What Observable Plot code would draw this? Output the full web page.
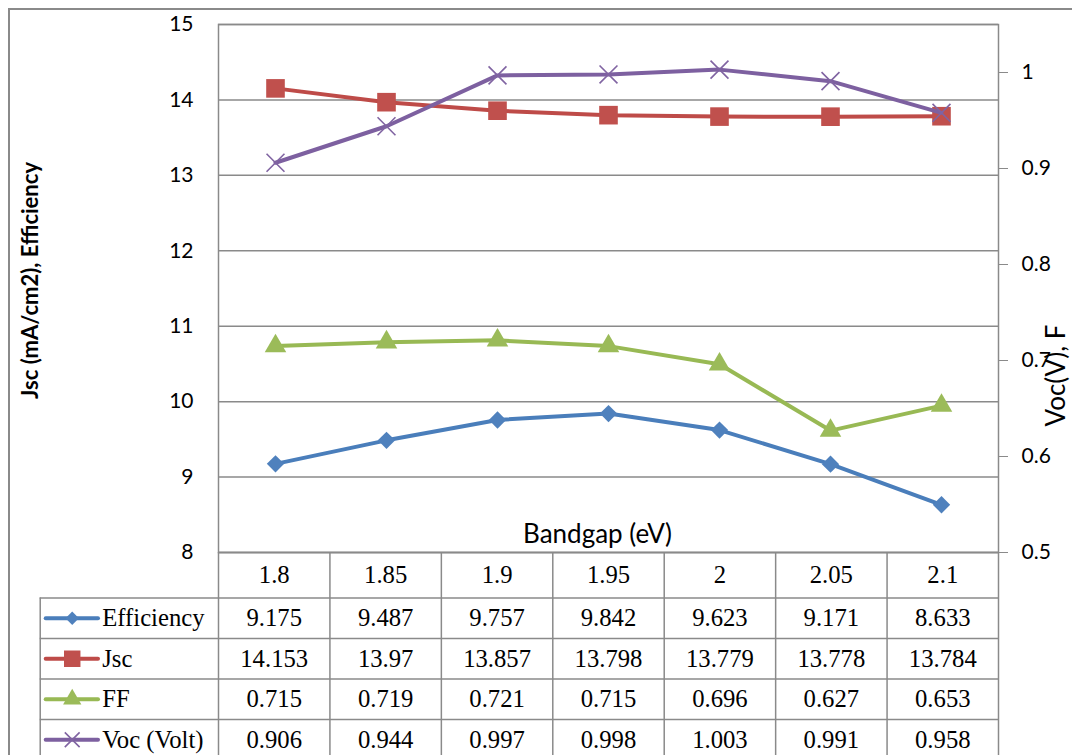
<!DOCTYPE html>
<html>
<head>
<meta charset="utf-8">
<script src="https://cdn.jsdelivr.net/npm/d3@7"></script>
<script src="https://cdn.jsdelivr.net/npm/@observablehq/plot@0.6"></script>
<style>
  html, body { margin: 0; padding: 0; background: white; }
  #chart { position: relative; width: 1072px; height: 755px; overflow: hidden; background: white; }
  #chart .border { position: absolute; left: 8px; top: 8px; width: 2000px; height: 2000px;
    border-left: 2px solid #8a8a8a; border-top: 2px solid #8a8a8a; }
  #chart svg { position: absolute; left: 0; top: 0; }
</style>
</head>
<body>
<div id="chart"><div class="border"></div></div>
<script>
// Bandgap sweep: categories and the four measured series
const bandgap = ["1.8", "1.85", "1.9", "1.95", "2", "2.05", "2.1"];
const efficiency = [9.175, 9.487, 9.757, 9.842, 9.623, 9.171, 8.633];
const jsc = [14.153, 13.97, 13.857, 13.798, 13.779, 13.778, 13.784];
const ff = [0.715, 0.719, 0.721, 0.715, 0.696, 0.627, 0.653];
const voc = [0.906, 0.944, 0.997, 0.998, 1.003, 0.991, 0.958];

// Axis ranges and ticks (left: Jsc / Efficiency, right: Voc / FF)
const leftDomain = [8, 15];
const leftTicks = [8, 9, 10, 11, 12, 13, 14, 15];
const rightDomain = [0.5, 1.05];
const rightTicks = [0.5, 0.6, 0.7, 0.8, 0.9, 1];

const xTitle = "Bandgap (eV)";
const leftTitle = "Jsc (mA/cm2), Efficiency";
const rightTitle = "Voc(V), F";

// Series drawing styles
const series = [
  {name: "Efficiency", values: efficiency, axis: "left",  line: "#4a7ebb", fill: "#4f81bd", symbol: "diamond2", r: 7.8, rLegend: 6},
  {name: "Jsc",        values: jsc,        axis: "left",  line: "#be4b48", fill: "#c0504d", symbol: "square",   r: 10.5, rLegend: 9.3},
  {name: "FF",         values: ff,         axis: "right", line: "#98b954", fill: "#9bbb59", symbol: "triangle", r: 8, rLegend: 6.8},
  {name: "Voc (Volt)", values: voc,        axis: "right", line: "#7d60a0", fill: "#8064a2", symbol: "times",    r: 8.2, rLegend: 6.8}
];

const GRID = "#8a8a8a";
const SANS = "Lato, 'Open Sans', sans-serif";
const SERIF = "'Liberation Serif', 'DejaVu Serif', serif";
const TABLE_FONT_SIZE = 24.7;

// Map a right-axis value onto the left-axis scale and back
const span = (d) => d[1] - d[0];
const toLeft = (v) => leftDomain[0] + (v - rightDomain[0]) * span(leftDomain) / span(rightDomain);
const fromLeft = (y) => rightDomain[0] + (y - leftDomain[0]) * span(rightDomain) / span(leftDomain);

const points = series.flatMap((s) =>
  s.values.map((v, i) => ({series: s.name, bandgap: bandgap[i], value: v, y: s.axis === "left" ? v : toLeft(v)}))
);

function dotStyleOf(s) {
  return s.symbol === "times"
    ? {fill: "none", stroke: s.fill, strokeWidth: 1.6}
    : {fill: s.fill, stroke: "none"};
}

function seriesMarks(s) {
  const data = points.filter((p) => p.series === s.name);
  return [
    Plot.line(data, {x: "bandgap", y: "y", stroke: s.line, strokeWidth: 4, strokeLinejoin: "round", strokeLinecap: "round"}),
    Plot.dot(data, {x: "bandgap", y: "y", symbol: s.symbol, r: s.r, ...dotStyleOf(s)})
  ];
}

const chart = Plot.plot({
  width: 1072,
  height: 755,
  marginLeft: 218,
  marginRight: 74,
  marginTop: 24,
  marginBottom: 203,
  style: {background: "transparent", overflow: "visible", fontFamily: SANS, color: "black"},
  x: {type: "point", domain: bandgap, padding: 0.5, axis: null},
  y: {domain: leftDomain},
  marks: [
    Plot.ruleY(leftTicks, {stroke: GRID, strokeWidth: 1.5}),
    Plot.frame({stroke: GRID, strokeWidth: 1.5}),
    Plot.axisY(leftTicks, {
      anchor: "left", tickSize: 0, tickPadding: 25, fontSize: 21, fill: "black", label: null,
      tickFormat: (d) => String(d)
    }),
    Plot.axisY(rightTicks.map(toLeft), {
      anchor: "right", tickSize: 9, tickPadding: 14, fontSize: 21, stroke: GRID, fill: "black", label: null,
      tickFormat: (d) => String(+fromLeft(d).toFixed(2))
    }),
    ...series.flatMap(seriesMarks),
    Plot.text([xTitle], {
      text: (d) => d, frameAnchor: "bottom", textAnchor: "middle", lineAnchor: "bottom",
      dx: -11, dy: -10, fontSize: 26, fill: "black"
    }),
    Plot.text([leftTitle], {
      text: (d) => d, frameAnchor: "left", textAnchor: "middle", rotate: -90, lineAnchor: "bottom",
      dx: -181, dy: -8, fontSize: 22, fontWeight: "bold", fill: "black"
    }),
    Plot.text([rightTitle], {
      text: (d) => d, frameAnchor: "right", textAnchor: "middle", rotate: -90, lineAnchor: "bottom",
      dx: 66, dy: 87, fontSize: 26, fill: "black"
    })
  ]
});

// Data table below the plot: header row of bandgaps, then one row per series.
// Table x runs in column units (0..7), the legend column sits left of 0.
const legendSpan = 1.6;
const nCols = bandgap.length;
const nRows = series.length + 1;

const hRules = d3.range(nRows + 1).map((r) => ({y: r, x1: r === 0 ? 0 : -legendSpan, x2: nCols}));
const vRules = d3.range(nCols + 1).map((c) => ({x: c, y1: 0, y2: nRows}))
  .concat([{x: -legendSpan, y1: 1, y2: nRows}]);

const cells = series.flatMap((s, si) =>
  s.values.map((v, ci) => ({row: si + 1, col: ci, text: String(v)}))
);

function legendMarks(s, si) {
  const row = [{row: si + 1}];
  return [
    Plot.ruleY(row, {
      y: (d) => d.row + 0.5, x1: -legendSpan, x2: 0, insetLeft: 6, insetRight: 120,
      stroke: s.line, strokeWidth: 4, strokeLinecap: "round"
    }),
    Plot.dot(row, {x: -legendSpan, y: (d) => d.row + 0.5, dx: 32, symbol: s.symbol, r: s.rLegend, ...dotStyleOf(s)}),
    Plot.text(row, {
      x: -legendSpan, y: (d) => d.row + 0.5, dx: 62, text: () => s.name, textAnchor: "start",
      fontFamily: SERIF, fontSize: TABLE_FONT_SIZE, fill: "black"
    })
  ];
}

const table = Plot.plot({
  width: 1072,
  height: 755,
  style: {background: "transparent", overflow: "visible", fontFamily: SERIF, color: "black"},
  x: {type: "linear", domain: [0, nCols], range: [218, 998], axis: null},
  y: {type: "linear", domain: [0, 1, nRows], range: [552, 597.5, 759.5], axis: null},
  marks: [
    Plot.ruleY(hRules, {y: "y", x1: "x1", x2: "x2", stroke: GRID, strokeWidth: 1.5}),
    Plot.ruleX(vRules, {x: "x", y1: "y1", y2: "y2", stroke: GRID, strokeWidth: 1.5}),
    Plot.text(bandgap, {
      x: (d, i) => i + 0.5, y: 0.5, text: (d) => d,
      fontFamily: SERIF, fontSize: TABLE_FONT_SIZE, fontVariant: "normal", fill: "black"
    }),
    Plot.text(cells, {
      x: (d) => d.col + 0.5, y: (d) => d.row + 0.5, text: "text",
      fontFamily: SERIF, fontSize: TABLE_FONT_SIZE, fontVariant: "normal", fill: "black"
    }),
    ...series.flatMap(legendMarks)
  ]
});

const host = document.getElementById("chart");
host.appendChild(chart);
host.appendChild(table);
</script>
</body>
</html>
